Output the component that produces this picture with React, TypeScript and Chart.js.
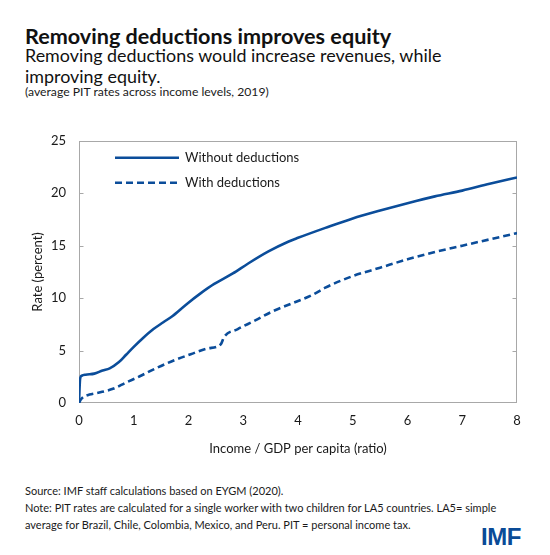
import React, { useEffect, useRef } from "react";
import { Chart, registerables } from "chart.js";

Chart.register(...registerables);

// ---- Data ----
const seriesNames = ["Without deductions", "With deductions"];

const xWithout = [0, 0.02, 0.05, 0.12, 0.28, 0.43, 0.56, 0.73, 0.86, 1.0, 1.17, 1.36, 1.54, 1.71, 1.96, 2.22, 2.47, 2.81, 3.09, 3.46, 3.83, 4.0, 4.5, 5.0, 5.5, 6.0, 6.5, 7.0, 7.5, 8.0];
const yWithout = [0, 2.3, 2.6, 2.7, 2.8, 3.1, 3.3, 3.9, 4.6, 5.35, 6.2, 7.05, 7.7, 8.3, 9.4, 10.45, 11.35, 12.35, 13.3, 14.45, 15.4, 15.75, 16.7, 17.6, 18.35, 19.05, 19.7, 20.25, 20.9, 21.5];

const xWith = [0, 0.03, 0.09, 0.19, 0.37, 0.62, 0.86, 1.11, 1.42, 1.73, 2.04, 2.35, 2.59, 2.65, 2.9, 3.21, 3.52, 3.89, 4.26, 4.5, 5.0, 5.5, 6.0, 6.5, 7.0, 7.5, 8.0];
const yWith = [0, 0.3, 0.6, 0.8, 1.0, 1.35, 1.95, 2.55, 3.35, 4.05, 4.65, 5.2, 5.6, 6.3, 7.05, 7.85, 8.7, 9.5, 10.3, 11.0, 12.1, 12.9, 13.7, 14.4, 15.0, 15.6, 16.2];

const xTicks = [0, 1, 2, 3, 4, 5, 6, 7, 8];
const yTicks = [0, 5, 10, 15, 20, 25];

const BLUE = "#0b4d9a";
const FRAME = "#a8a8a8";
const TEXT = "#1a1a1a";
const FONT = "Lato, 'Open Sans', sans-serif";

const framePlugin = {
  id: "frameAndLegend",
  beforeDatasetsDraw(chart: any) {
    const { ctx, chartArea: a, scales } = chart;
    ctx.save();
    ctx.strokeStyle = FRAME;
    ctx.lineWidth = 1;
    const l = Math.round(a.left) + 0.5;
    const r = Math.round(a.right) - 0.5;
    const t = Math.round(a.top) + 0.5;
    const b = Math.round(a.bottom) - 0.5;
    ctx.strokeRect(l, t, r - l, b - t);
    ctx.beginPath();
    for (const v of yTicks) {
      if (v === yTicks[0] || v === yTicks[yTicks.length - 1]) continue;
      const y = Math.round(scales.y.getPixelForValue(v)) + 0.5;
      ctx.moveTo(l, y);
      ctx.lineTo(l + 4, y);
      ctx.moveTo(r, y);
      ctx.lineTo(r - 4, y);
    }
    ctx.stroke();
    ctx.restore();
  },
  afterDraw(chart: any) {
    const { ctx, chartArea: a } = chart;
    ctx.save();
    chart.data.datasets.forEach((ds: any, i: number) => {
      const y = a.top + 17 + i * 25;
      ctx.beginPath();
      ctx.strokeStyle = ds.borderColor;
      ctx.lineWidth = ds.borderWidth;
      ctx.setLineDash(ds.borderDash || []);
      ctx.moveTo(a.left + 36, y);
      ctx.lineTo(a.left + 100, y);
      ctx.stroke();
      ctx.setLineDash([]);
      ctx.fillStyle = TEXT;
      ctx.font = `13px ${FONT}`;
      ctx.textBaseline = "middle";
      ctx.textAlign = "left";
      ctx.fillText(ds.label, a.left + 106, y);
    });
    ctx.restore();
  },
};

export default function App() {
  const ref = useRef<HTMLCanvasElement | null>(null);

  useEffect(() => {
    if (!ref.current) return;
    const chart = new Chart(ref.current, {
      type: "line",
      data: {
        datasets: [
          {
            label: seriesNames[0],
            data: xWithout.map((x, i) => ({ x, y: yWithout[i] })),
            borderColor: BLUE,
            borderWidth: 2.6,
            pointRadius: 0,
            cubicInterpolationMode: "monotone",
            fill: false,
          },
          {
            label: seriesNames[1],
            data: xWith.map((x, i) => ({ x, y: yWith[i] })),
            borderColor: BLUE,
            borderWidth: 2.6,
            borderDash: [7, 4],
            pointRadius: 0,
            cubicInterpolationMode: "monotone",
            fill: false,
          },
        ],
      },
      options: {
        responsive: false,
        animation: false,
        layout: { padding: { left: 0, right: 33, top: 19, bottom: 0 } },
        plugins: { legend: { display: false }, tooltip: { enabled: false }, title: { display: false } },
        scales: {
          x: {
            type: "linear",
            min: 0,
            max: 8,
            grid: { display: false, drawTicks: false },
            border: { display: false },
            afterBuildTicks: (s: any) => {
              s.ticks = xTicks.map((v) => ({ value: v }));
            },
            afterFit: (s: any) => {
              s.height = 62;
            },
            ticks: { color: TEXT, font: { family: FONT, size: 13 }, padding: 10, maxRotation: 0 },
            title: {
              display: true,
              text: "Income / GDP per capita (ratio)",
              color: TEXT,
              font: { family: FONT, size: 13 },
              padding: { top: 0, bottom: 8 },
            },
          },
          y: {
            type: "linear",
            min: 0,
            max: 25,
            grid: { display: false, drawTicks: false },
            border: { display: false },
            afterBuildTicks: (s: any) => {
              s.ticks = yTicks.map((v) => ({ value: v }));
            },
            afterFit: (s: any) => {
              s.width = 79;
            },
            ticks: { color: TEXT, font: { family: FONT, size: 13 }, padding: 13 },
            title: {
              display: true,
              text: "Rate (percent)",
              color: TEXT,
              font: { family: FONT, size: 13 },
              padding: { top: 30, bottom: 0 },
            },
          },
        },
      },
      plugins: [framePlugin],
    });
    return () => chart.destroy();
  }, []);

  const abs = (top: number, extra: any = {}) => ({
    position: "absolute" as const,
    left: 25,
    top,
    whiteSpace: "nowrap" as const,
    fontFamily: FONT,
    color: TEXT,
    ...extra,
  });

  return (
    <div style={{ position: "absolute", left: 0, top: 0, width: 550, height: 555, background: "#fff", overflow: "hidden" }}>
      <div style={abs(24, { fontSize: 21.6, fontWeight: 700, lineHeight: "24px", color: "#111" })}>
        Removing deductions improves equity
      </div>
      <div style={abs(45, { fontSize: 17.9, lineHeight: "21px", color: "#111" })}>
        Removing deductions would increase revenues, while
        <br />
        improving equity.
      </div>
      <div style={abs(85, { fontSize: 12.2, lineHeight: "14px" })}>(average PIT rates across income levels, 2019)</div>
      <canvas
        ref={ref}
        width={550}
        height={345}
        style={{ position: "absolute", left: 0, top: 120, width: 550, height: 345 }}
      />
      <div style={abs(482, { fontSize: 11, lineHeight: "17px" })}>
        Source: IMF staff calculations based on EYGM (2020).
        <br />
        Note: PIT rates are calculated for a single worker with two children for LA5 countries. LA5= simple
        <br />
        average for Brazil, Chile, Colombia, Mexico, and Peru. PIT = personal income tax.
      </div>
      <div
        style={{
          position: "absolute",
          left: 481,
          top: 524,
          fontFamily: "'Liberation Sans', Arial, sans-serif",
          fontWeight: 700,
          fontSize: 24,
          lineHeight: "26px",
          color: "#0a4b97",
          letterSpacing: -0.5,
        }}
      >
        IMF
      </div>
    </div>
  );
}
